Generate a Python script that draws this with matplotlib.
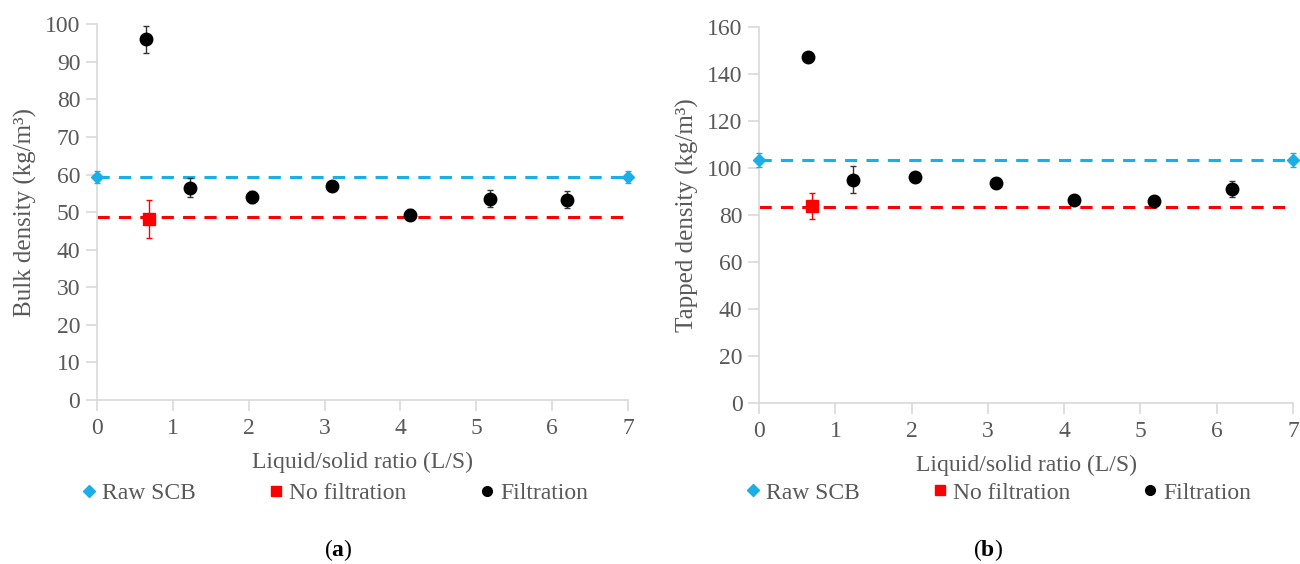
import matplotlib
matplotlib.use("Agg")
import matplotlib.pyplot as plt
from matplotlib.lines import Line2D
from matplotlib.font_manager import FontProperties

SERIF = 'Liberation Serif'
plt.rcParams['font.family'] = 'serif'
plt.rcParams['font.serif'] = [SERIF, 'DejaVu Serif']
plt.rcParams['mathtext.fontset'] = 'custom'
plt.rcParams['mathtext.rm'] = SERIF
plt.rcParams['mathtext.bf'] = SERIF + ':bold'

TXT = '#595959'
BLUE = '#1AAFE6'
RED = '#FF0000'
FS = 17

# Data
raw_x = [0, 7]
filt_x = [0.64, 1.23, 2.04, 3.10, 4.13, 5.18, 6.20]
nofilt_x = [0.69]

bulk_raw = 59.3
bulk_raw_err = 1.6
bulk_nofilt = 48.2
bulk_nofilt_err = 5.0
bulk_nofilt_line = 48.7
bulk_filt = [96.0, 56.5, 54.1, 57.0, 49.3, 53.6, 53.3]
bulk_filt_err = [3.6, 2.5, 1.6, 1.2, 1.5, 2.2, 2.2]

tap_raw = 103.2
tap_raw_err = 3.0
tap_nofilt = 83.7
tap_nofilt_err = 5.5
tap_nofilt_line = 83.5
tap_filt = [147.2, 95.0, 96.2, 93.7, 86.5, 86.0, 91.0]
tap_filt_err = [1.0, 5.8, 1.0, 2.2, 1.0, 1.0, 3.5]

fig = plt.figure(figsize=(13, 5.64), dpi=100)
ax1 = fig.add_axes([0.0746, 0.291, 0.4085, 0.666])
ax2 = fig.add_axes([0.584, 0.2855, 0.4106, 0.6667])


def draw(ax, raw, raw_err, nof, nof_err, nof_line, filt, filt_err, ymax, ystep, ylabel, leg_y):
    ax.plot(raw_x, [raw, raw], linestyle=(0, (4, 3)), color=BLUE, lw=2.2, zorder=2)
    ax.plot([0, 7], [nof_line, nof_line], linestyle=(0, (4, 3)), color=RED, lw=2.2, zorder=2)
    ax.errorbar(raw_x, [raw, raw], yerr=raw_err, fmt='D', color=BLUE, ms=6,
                elinewidth=1, capsize=2.5, zorder=3, clip_on=False)
    ax.errorbar(nofilt_x, [nof], yerr=nof_err, fmt='s', color=RED, ms=9,
                elinewidth=1, capsize=2.5, zorder=3)
    ax.errorbar(filt_x, filt, yerr=filt_err, fmt='o', color='black', ms=9,
                ecolor='#333333', elinewidth=1, capsize=2.5, zorder=4)
    ax.set_xlim(0, 7)
    ax.set_ylim(0, ymax)
    ax.set_xticks(range(0, 8))
    ax.set_yticks(range(0, ymax + 1, ystep))
    for s in ['top', 'right']:
        ax.spines[s].set_visible(False)
    for s in ['left', 'bottom']:
        ax.spines[s].set_color('#D9D9D9')
        ax.spines[s].set_linewidth(1.2)
    ax.tick_params(axis='both', colors='#D9D9D9', labelcolor=TXT, labelsize=FS,
                   length=8, width=1.2, direction='out')
    ax.tick_params(axis='x', pad=5)
    ax.tick_params(axis='y', length=8, pad=4)
    for lab in ax.get_xticklabels() + ax.get_yticklabels():
        lab.set_fontfamily(SERIF)
    ax.set_xlabel('Liquid/solid ratio (L/S)', color=TXT, fontsize=FS, labelpad=9,
                  fontfamily=SERIF)
    ax.set_ylabel(ylabel, color=TXT, fontsize=FS + 1, labelpad=6, fontfamily=SERIF)
    handles = [
        Line2D([], [], marker='D', color=BLUE, ls='none', ms=6),
        Line2D([], [], marker='s', color=RED, ls='none', ms=7),
        Line2D([], [], marker='o', color='black', ls='none', ms=7),
    ]
    leg = ax.legend(handles, ['Raw SCB', 'No filtration', 'Filtration'], loc='center',
                    bbox_to_anchor=(0.444, leg_y), ncol=3, frameon=False,
                    prop=FontProperties(family=SERIF, size=FS),
                    columnspacing=2.9, handletextpad=0.05, handlelength=1.0)
    for t in leg.get_texts():
        t.set_color(TXT)


draw(ax1, bulk_raw, bulk_raw_err, bulk_nofilt, bulk_nofilt_err, bulk_nofilt_line,
     bulk_filt, bulk_filt_err, 100, 10, 'Bulk density (kg/m³)', -0.248)
draw(ax2, tap_raw, tap_raw_err, tap_nofilt, tap_nofilt_err, tap_nofilt_line,
     tap_filt, tap_filt_err, 160, 20, 'Tapped density (kg/m³)', -0.239)

fig.text(0.260, 0.025, r'(' + r'$\mathbf{a}$' + ')', fontsize=FS, ha='center', va='center',
         fontfamily=SERIF)
fig.text(0.760, 0.025, r'(' + r'$\mathbf{b}$' + ')', fontsize=FS, ha='center', va='center',
         fontfamily=SERIF)

fig.savefig('out.png', dpi=100)
